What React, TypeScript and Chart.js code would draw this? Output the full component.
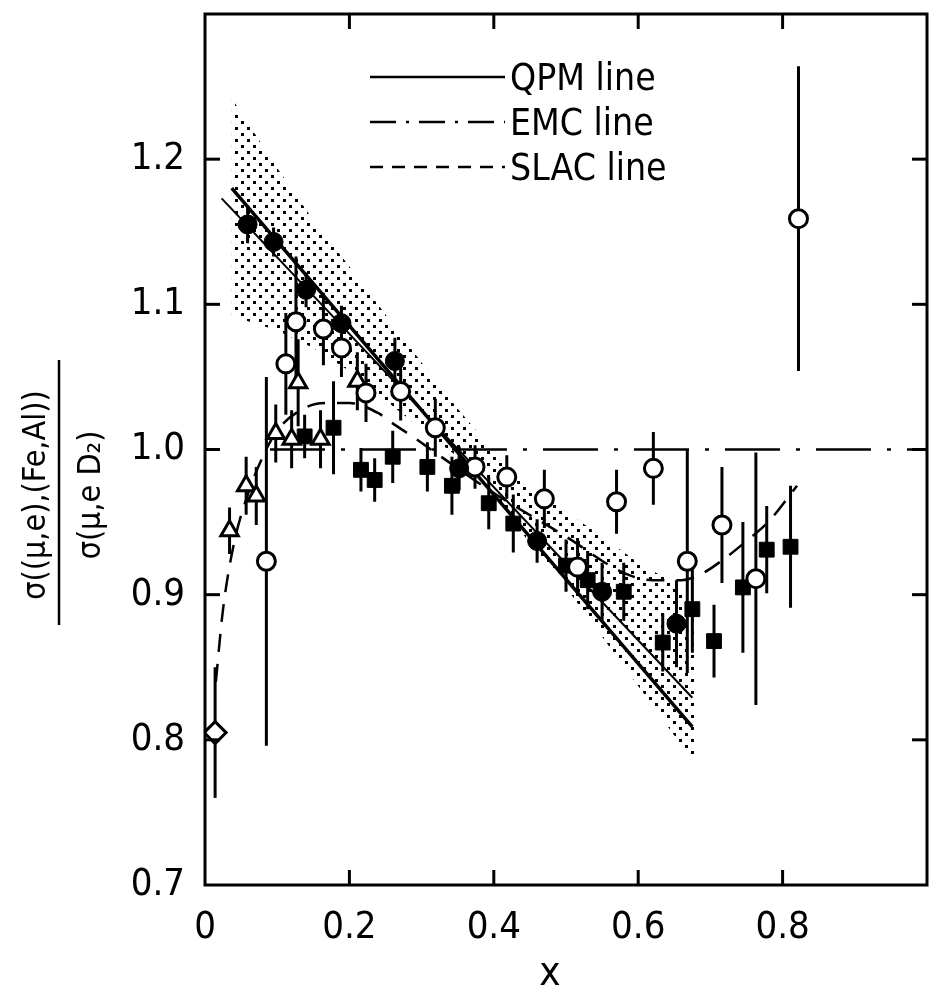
import { useEffect, useRef } from 'react';
import { Chart, registerables } from 'chart.js';

Chart.register(...registerables);

// ---- axis ticks ----
const xTicks = [0, 0.2, 0.4, 0.6, 0.8];
const xTickLabels = ['0', '0.2', '0.4', '0.6', '0.8'];
const yTicks = [0.7, 0.8, 0.9, 1.0, 1.1, 1.2];
const yTickLabels = ['0.7', '0.8', '0.9', '1.0', '1.1', '1.2'];

// ---- filled circles ----
const filledCircleX = [0.059, 0.095, 0.140, 0.189, 0.263, 0.352, 0.460, 0.550, 0.653];
const filledCircleY = [1.155, 1.143, 1.110, 1.087, 1.061, 0.987, 0.937, 0.902, 0.880];
const filledCircleErr = [0.013, 0.010, 0.012, 0.012, 0.016, 0.015, 0.015, 0.02, 0.03];

// ---- open circles ----
const openCircleX = [0.085, 0.112, 0.126, 0.164, 0.189, 0.223, 0.271, 0.319, 0.374, 0.418, 0.470, 0.516, 0.570, 0.621, 0.668, 0.716, 0.763, 0.822];
const openCircleY = [0.923, 1.059, 1.088, 1.083, 1.070, 1.039, 1.040, 1.015, 0.988, 0.981, 0.966, 0.919, 0.964, 0.987, 0.923, 0.948, 0.911, 1.159];
const openCircleErr = [0.127, 0.035, 0.045, 0.025, 0.02, 0.02, 0.02, 0.02, 0.015, 0.015, 0.02, 0.02, 0.022, 0.025, 0.077, 0.04, 0.087, 0.105];

// ---- open triangles ----
const triangleX = [0.034, 0.057, 0.071, 0.098, 0.120, 0.129, 0.160, 0.211];
const triangleY = [0.944, 0.975, 0.968, 1.011, 1.007, 1.046, 1.007, 1.047];
const triangleErr = [0.016, 0.02, 0.02, 0.02, 0.02, 0.03, 0.02, 0.02];

// ---- filled squares ----
const squareX = [0.138, 0.178, 0.216, 0.235, 0.260, 0.308, 0.342, 0.393, 0.427, 0.500, 0.530, 0.580, 0.634, 0.675, 0.705, 0.745, 0.778, 0.811];
const squareY = [1.009, 1.015, 0.986, 0.979, 0.995, 0.988, 0.975, 0.963, 0.949, 0.920, 0.910, 0.902, 0.867, 0.890, 0.868, 0.905, 0.931, 0.933];
const squareErr = [0.015, 0.032, 0.015, 0.015, 0.018, 0.017, 0.02, 0.018, 0.02, 0.018, 0.02, 0.02, 0.02, 0.03, 0.025, 0.045, 0.03, 0.042];

// ---- open diamond ----
const diamondX = [0.014];
const diamondY = [0.805];
const diamondErr = [0.045];

// ---- lines ----
const qpmX = [0.037, 0.675];
const qpmY = [1.180, 0.809];
const fitX = [0.023, 0.675];
const fitY = [1.173, 0.829];
const emcX = [0.09, 1.0];
const emcY = [1.0, 1.0];
const slacX = [0.015, 0.025, 0.04, 0.06, 0.08, 0.10, 0.14, 0.17, 0.20, 0.24, 0.26, 0.29, 0.31, 0.40, 0.50, 0.58, 0.62, 0.66, 0.69, 0.72, 0.75, 0.78, 0.82];
const slacY = [0.84, 0.89, 0.935, 0.97, 0.995, 1.013, 1.029, 1.032, 1.032, 1.025, 1.018, 1.008, 1.001, 0.97, 0.94, 0.915, 0.91, 0.91, 0.915, 0.925, 0.937, 0.95, 0.975];

// ---- shaded band ----
const bandX = [0.037, 0.10, 0.15, 0.20, 0.25, 0.30, 0.35, 0.40, 0.45, 0.50, 0.55, 0.60, 0.65, 0.68];
const bandUpper = [1.242, 1.194, 1.158, 1.126, 1.093, 1.060, 1.028, 0.999, 0.974, 0.957, 0.940, 0.922, 0.908, 0.895];
const bandLower = [1.092, 1.082, 1.070, 1.054, 1.034, 1.014, 0.995, 0.970, 0.935, 0.905, 0.871, 0.837, 0.803, 0.783];

const legendLabels = ['QPM line', 'EMC line', 'SLAC line'];
const xTitle = 'x';
const yTitleNum = 'σ((μ,e),(Fe,Al))';
const yTitleDen = 'σ(μ,e D₂)';

const pts = (xs: number[], ys: number[]) => xs.map((x, i) => ({ x, y: ys[i] }));
const errPts = (xs: number[], ys: number[], es: number[]) => {
  const out: { x: number; y: number | null }[] = [];
  xs.forEach((x, i) => {
    out.push({ x, y: ys[i] - es[i] }, { x, y: ys[i] + es[i] }, { x, y: null });
  });
  return out;
};

const TICK_FONT = '"Liberation Sans Narrow", "DejaVu Sans Condensed", "Liberation Sans", sans-serif';
const TEXT_FONT = '"DejaVu Sans Condensed", "DejaVu Sans", sans-serif';

const zeroPad = (s: any) => {
  s.paddingTop = 0;
  s.paddingBottom = 0;
  s.paddingLeft = 0;
  s.paddingRight = 0;
};

const framePlugin = {
  id: 'frame',
  afterDraw(chart: any) {
    const { ctx, chartArea: a, scales } = chart;
    const xs = scales.x;
    const ys = scales.y;
    ctx.save();
    ctx.strokeStyle = '#000';
    ctx.fillStyle = '#000';
    ctx.lineWidth = 3;
    ctx.strokeRect(a.left, a.top, a.right - a.left, a.bottom - a.top);
    const L = 15;
    const seg = (x1: number, y1: number, x2: number, y2: number) => {
      ctx.beginPath();
      ctx.moveTo(x1, y1);
      ctx.lineTo(x2, y2);
      ctx.stroke();
    };
    xTicks.forEach((v) => {
      if (v === 0) return;
      const px = xs.getPixelForValue(v);
      seg(px, a.bottom, px, a.bottom - L);
      seg(px, a.top, px, a.top + L);
    });
    yTicks.forEach((v) => {
      if (v === 0.7) return;
      const py = ys.getPixelForValue(v);
      seg(a.left, py, a.left + L, py);
      seg(a.right, py, a.right - L, py);
    });

    // legend
    const lx1 = 370, lx2 = 505;
    const rows = [80, 125, 170];
    const dashes = [[], [26, 10, 3, 10], [13, 9]];
    ctx.lineWidth = 2.5;
    rows.forEach((ry, i) => {
      ctx.setLineDash(dashes[i]);
      seg(lx1, ry - 3, lx2, ry - 3);
    });
    ctx.setLineDash([]);
    ctx.font = `37px ${TEXT_FONT}`;
    ctx.textAlign = 'left';
    ctx.textBaseline = 'middle';
    rows.forEach((ry, i) => ctx.fillText(legendLabels[i], 510, ry));

    // x title
    ctx.textAlign = 'center';
    ctx.font = `40px ${TEXT_FONT}`;
    ctx.fillText(xTitle, 550, 975);

    // y title (fraction)
    ctx.save();
    ctx.rotate(-Math.PI / 2);
    ctx.font = `32px ${TEXT_FONT}`;
    ctx.textAlign = 'center';
    ctx.textBaseline = 'middle';
    ctx.fillText(yTitleNum, -495, 37);
    ctx.fillText(yTitleDen, -495, 92);
    ctx.restore();
    ctx.lineWidth = 2.5;
    seg(59, 360, 59, 625);
    ctx.restore();
  },
};

export default function App() {
  const ref = useRef<HTMLCanvasElement | null>(null);
  useEffect(() => {
    const canvas = ref.current;
    if (!canvas) return;
    const pc = document.createElement('canvas');
    pc.width = 12;
    pc.height = 12;
    const pctx = pc.getContext('2d')!;
    pctx.fillStyle = '#000';
    pctx.fillRect(1, 1, 3, 3);
    pctx.fillRect(7, 7, 3, 3);
    const pattern = canvas.getContext('2d')!.createPattern(pc, 'repeat');

    const errStyle = {
      type: 'line' as const,
      borderColor: '#000',
      borderWidth: 3,
      pointRadius: 0,
      showLine: true,
      spanGaps: false,
      order: 2,
    };
    const chart = new Chart(canvas, {
      type: 'scatter',
      data: {
        datasets: [
          { label: 'filled circles', data: pts(filledCircleX, filledCircleY), pointStyle: 'circle', pointRadius: 9.5, backgroundColor: '#000', borderColor: '#000', borderWidth: 1, order: 0 },
          { label: 'open circles', data: pts(openCircleX, openCircleY), pointStyle: 'circle', pointRadius: 9, backgroundColor: '#fff', borderColor: '#000', borderWidth: 3, order: 0 },
          { label: 'open triangles', data: pts(triangleX, triangleY), pointStyle: 'triangle', pointRadius: 10, backgroundColor: '#fff', borderColor: '#000', borderWidth: 3, order: 0 },
          { label: 'filled squares', data: pts(squareX, squareY), pointStyle: 'rect', pointRadius: 10.5, backgroundColor: '#000', borderColor: '#000', borderWidth: 1, order: 0 },
          { label: 'open diamond', data: pts(diamondX, diamondY), pointStyle: 'rectRot', pointRadius: 11, backgroundColor: '#fff', borderColor: '#000', borderWidth: 3, order: 0 },
          { ...errStyle, label: 'err fc', data: errPts(filledCircleX, filledCircleY, filledCircleErr) },
          { ...errStyle, label: 'err oc', data: errPts(openCircleX, openCircleY, openCircleErr) },
          { ...errStyle, label: 'err tr', data: errPts(triangleX, triangleY, triangleErr) },
          { ...errStyle, label: 'err sq', data: errPts(squareX, squareY, squareErr) },
          { ...errStyle, label: 'err dm', data: errPts(diamondX, diamondY, diamondErr) },
          { type: 'line', label: 'QPM line', data: pts(qpmX, qpmY), borderColor: '#000', borderWidth: 3.5, pointRadius: 0, order: 3 },
          { type: 'line', label: 'fit', data: pts(fitX, fitY), borderColor: '#000', borderWidth: 2, pointRadius: 0, order: 3 },
          { type: 'line', label: 'EMC line', data: pts(emcX, emcY), borderColor: '#000', borderWidth: 2.5, borderDash: [55, 16, 4, 16], pointRadius: 0, order: 3 },
          { type: 'line', label: 'SLAC line', data: pts(slacX, slacY), borderColor: '#000', borderWidth: 2.5, borderDash: [18, 12], cubicInterpolationMode: 'monotone', pointRadius: 0, order: 3 },
          { type: 'line', label: 'band upper', data: pts(bandX, bandUpper), borderWidth: 0, borderColor: 'rgba(0,0,0,0)', backgroundColor: pattern as any, fill: '+1', pointRadius: 0, order: 4 },
          { type: 'line', label: 'band lower', data: pts(bandX, bandLower), borderWidth: 0, borderColor: 'rgba(0,0,0,0)', pointRadius: 0, fill: false, order: 4 },
        ] as any,
      },
      options: {
        animation: false,
        responsive: false,
        devicePixelRatio: 1,
        layout: { padding: { left: 0, right: 8, top: 14, bottom: 0 } },
        plugins: { legend: { display: false }, tooltip: { enabled: false } },
        scales: {
          x: {
            type: 'linear',
            min: 0,
            max: 1.0,
            afterBuildTicks: (s: any) => { s.ticks = xTicks.map((v) => ({ value: v })); },
            afterFit: (s: any) => { s.height = 998 - 885; zeroPad(s); },
            grid: { display: false, drawTicks: false },
            border: { display: false },
            ticks: {
              color: '#000',
              padding: 20,
              maxRotation: 0,
              autoSkip: false,
              font: { family: TICK_FONT, size: 38 },
              callback: (_v: any, i: number) => xTickLabels[i],
            },
          },
          y: {
            type: 'linear',
            min: 0.7,
            max: 1.3,
            afterBuildTicks: (s: any) => { s.ticks = yTicks.map((v) => ({ value: v })); },
            afterFit: (s: any) => { s.width = 205; zeroPad(s); },
            grid: { display: false, drawTicks: false },
            border: { display: false },
            ticks: {
              color: '#000',
              padding: 20,
              autoSkip: false,
              font: { family: TICK_FONT, size: 38 },
              callback: (_v: any, i: number) => yTickLabels[i],
            },
          },
        },
      },
      plugins: [framePlugin],
    });
    return () => chart.destroy();
  }, []);
  return (
    <div style={{ position: 'absolute', left: 0, top: 0, width: 941, height: 998, background: '#fff' }}>
      <canvas ref={ref} width={941} height={998} style={{ display: 'block' }} />
    </div>
  );
}
